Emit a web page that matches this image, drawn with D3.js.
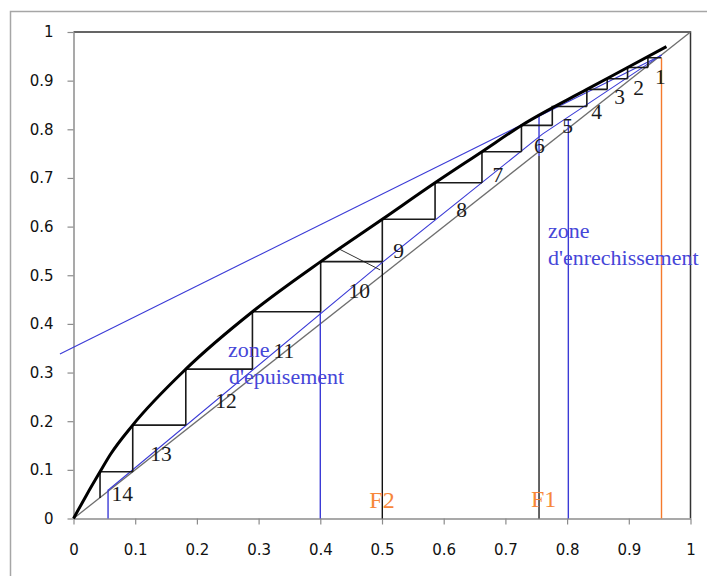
<!DOCTYPE html>
<html>
<head>
<meta charset="utf-8">
<script src="https://cdn.jsdelivr.net/npm/d3@7"></script>
<style>
  body { margin: 0; background: #fff; }
  svg { display: block; }
</style>
</head>
<body>
<div id="chart"></div>
<script>
// tick labels
const ticks = [0, 0.1, 0.2, 0.3, 0.4, 0.5, 0.6, 0.7, 0.8, 0.9, 1];

// equilibrium curve (thick black)
const eqX = [0, 0.021, 0.043, 0.06, 0.096, 0.182, 0.290, 0.4006, 0.5005, 0.586, 0.662, 0.726, 0.832, 0.898, 0.961];
const eqY = [0, 0.048, 0.096, 0.132, 0.192, 0.307, 0.425, 0.528, 0.615, 0.690, 0.754, 0.808, 0.882, 0.927, 0.970];

// stages, corners on the equilibrium curve (stage 1 at the top)
const stageNames = ["1", "2", "3", "4", "5", "6", "7", "8", "9", "10", "11", "12", "13", "14"];
const stageX = [0.931, 0.898, 0.865, 0.832, 0.776, 0.726, 0.662, 0.586, 0.5005, 0.4006, 0.290, 0.182, 0.096, 0.043];
const stageY = [0.947, 0.927, 0.904, 0.882, 0.847, 0.808, 0.754, 0.690, 0.615, 0.528, 0.425, 0.307, 0.192, 0.096];
const xD = 0.953;        // start of the staircase
const lastFoot = 0.042;  // bottom of the last vertical step

// label positions of stage numbers (data coords)
const stageLabelX = [0.951, 0.916, 0.885, 0.848, 0.801, 0.755, 0.688, 0.629, 0.527, 0.463, 0.341, 0.247, 0.142, 0.079];
const stageLabelY = [0.893, 0.870, 0.852, 0.821, 0.793, 0.751, 0.692, 0.620, 0.535, 0.454, 0.330, 0.227, 0.119, 0.036];

// operating lines
const rectX = [-0.022, 0.953];
const rectY = [0.338, 0.952];
const opX = [0.056, 0.5, 0.76, 0.953];
const opY = [0.058, 0.526, 0.79, 0.953];

// short feed line near F2
const feedX = [0.432, 0.497];
const feedY = [0.553, 0.511];

// vertical markers: x, y from, y to, colour
const markers = [
  { x: 0.056, y0: 0, y1: 0.059, c: "#3b3bd6" },
  { x: 0.4, y0: 0, y1: 0.425, c: "#3b3bd6" },
  { x: 0.5005, y0: 0, y1: 0.528, c: "#111" },
  { x: 0.7545, y0: 0, y1: 0.745, c: "#222" },
  { x: 0.7545, y0: 0.745, y1: 0.831, c: "#3b3bd6" },
  { x: 0.802, y0: 0, y1: 0.82, c: "#3b3bd6" },
  { x: 0.953, y0: 0, y1: 0.946, c: "#f57a2c" }
];

const width = 707;
const height = 576;

const svg = d3.select("#chart").append("svg")
  .attr("width", width)
  .attr("height", height);

// outer frame
svg.append("rect")
  .attr("x", 10.5).attr("y", 11.5)
  .attr("width", 800).attr("height", 800)
  .attr("fill", "none")
  .attr("stroke", "#a6a6a6")
  .attr("stroke-width", 1.5);

const x = d3.scaleLinear().domain([0, 1]).range([73.5, 690.5]);
const y = d3.scaleLinear().domain([0, 1]).range([518.5, 32]);

// plot border top and right
svg.append("path")
  .attr("d", `M${x(0)},${y(1)}H${x(1)}V${y(0)}`)
  .attr("fill", "none")
  .attr("stroke", "#333")
  .attr("stroke-width", 1.5);

const fmt = d3.format("~g");

const yAxis = svg.append("g")
  .attr("transform", `translate(${x(0)},0)`)
  .call(d3.axisLeft(y).tickValues(ticks).tickFormat(fmt).tickSize(6).tickSizeOuter(0).tickPadding(14));

const xAxis = svg.append("g")
  .attr("transform", `translate(0,${y(0)})`)
  .call(d3.axisBottom(x).tickValues(ticks).tickFormat(fmt).tickSize(6).tickSizeOuter(0).tickPadding(20));

[xAxis, yAxis].forEach(g => {
  g.select(".domain").attr("stroke", "#8c8c8c").attr("stroke-width", 1.5);
  g.selectAll(".tick line").attr("stroke", "#8c8c8c").attr("stroke-width", 1.2);
  g.selectAll(".tick text")
    .attr("fill", "#111")
    .style("font-family", "DejaVu Sans, sans-serif")
    .style("font-size", "15px");
});

const line = d3.line().x(d => x(d[0])).y(d => y(d[1]));

// diagonal y = x
svg.append("path")
  .attr("d", line([[0, 0], [1, 1]]))
  .attr("fill", "none")
  .attr("stroke", "#6e6e6e")
  .attr("stroke-width", 1.3);

// vertical markers
svg.selectAll(".marker")
  .data(markers)
  .enter()
  .append("line")
  .attr("class", "marker")
  .attr("x1", d => x(d.x)).attr("x2", d => x(d.x))
  .attr("y1", d => y(d.y0)).attr("y2", d => y(d.y1))
  .attr("stroke", d => d.c)
  .attr("stroke-width", 1.4);

// operating lines
svg.append("path")
  .attr("d", line(rectX.map((v, i) => [v, rectY[i]])))
  .attr("fill", "none")
  .attr("stroke", "#3b3bd6")
  .attr("stroke-width", 1.1);

svg.append("path")
  .attr("d", line(opX.map((v, i) => [v, opY[i]])))
  .attr("fill", "none")
  .attr("stroke", "#3b3bd6")
  .attr("stroke-width", 1.1);

// feed line
svg.append("path")
  .attr("d", line(feedX.map((v, i) => [v, feedY[i]])))
  .attr("fill", "none")
  .attr("stroke", "#333")
  .attr("stroke-width", 1);

// staircase
const steps = [];
stageX.forEach((sx, i) => {
  const prevX = i === 0 ? xD : stageX[i - 1];
  const nextY = i === stageX.length - 1 ? lastFoot : stageY[i + 1];
  steps.push([[prevX, stageY[i]], [sx, stageY[i]], [sx, nextY]]);
});

svg.selectAll(".step")
  .data(steps)
  .enter()
  .append("path")
  .attr("class", "step")
  .attr("d", line)
  .attr("fill", "none")
  .attr("stroke", "#1a1a1a")
  .attr("stroke-width", 1.6);

// equilibrium curve
svg.append("path")
  .attr("d", d3.line().curve(d3.curveMonotoneX)
    .x(d => x(d[0])).y(d => y(d[1]))(eqX.map((v, i) => [v, eqY[i]])))
  .attr("fill", "none")
  .attr("stroke", "#000")
  .attr("stroke-width", 3);

// stage numbers
svg.selectAll(".stage")
  .data(stageNames)
  .enter()
  .append("text")
  .attr("class", "stage")
  .attr("x", (d, i) => x(stageLabelX[i]))
  .attr("y", (d, i) => y(stageLabelY[i]))
  .attr("text-anchor", "middle")
  .style("font-family", "Liberation Serif, serif")
  .style("font-size", "21.5px")
  .attr("fill", "#1a1a1a")
  .text(d => d);

// feed labels
const feedLabels = [
  { t: "F2", x: 0.5, y: 0.021 },
  { t: "F1", x: 0.762, y: 0.024 }
];
svg.selectAll(".flabel")
  .data(feedLabels)
  .enter()
  .append("text")
  .attr("class", "flabel")
  .attr("x", d => x(d.x))
  .attr("y", d => y(d.y))
  .attr("text-anchor", "middle")
  .style("font-family", "Liberation Serif, serif")
  .style("font-size", "24px")
  .attr("fill", "#f7873a")
  .text(d => d.t);

// zone labels
const zoneLabels = [
  { t: "zone", x: 548, y: 238 },
  { t: "d'enrechissement", x: 548, y: 265 },
  { t: "zone", x: 228, y: 357 },
  { t: "d'epuisement", x: 229, y: 384 }
];
svg.selectAll(".zone")
  .data(zoneLabels)
  .enter()
  .append("text")
  .attr("class", "zone")
  .attr("x", d => d.x)
  .attr("y", d => d.y)
  .style("font-family", "Liberation Serif, serif")
  .style("font-size", "22px")
  .attr("fill", "#4646d8")
  .text(d => d.t);
</script>
</body>
</html>
